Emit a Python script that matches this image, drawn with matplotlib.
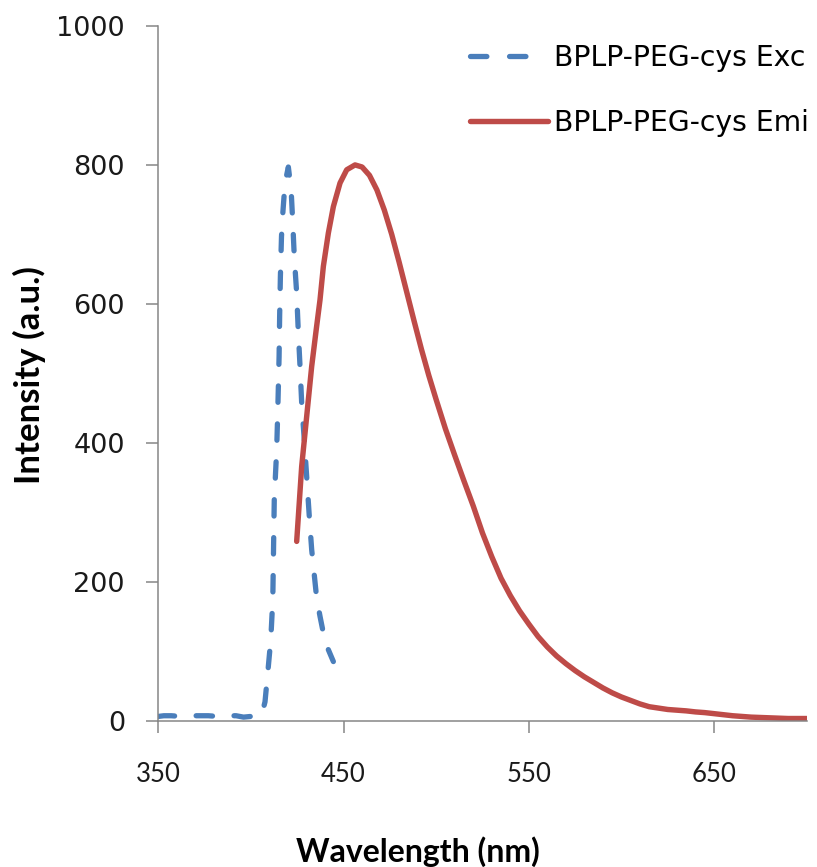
import matplotlib
matplotlib.use("Agg")
import matplotlib.pyplot as plt
import numpy as np

# Excitation spectrum (wavelength in nm, intensity in a.u.)
exc_wl = [350, 353, 357, 362, 367, 372, 377, 382, 387, 392, 396, 400, 403, 405.8,
          407.6, 409.4, 410.7, 411.8, 412.6, 413.9, 414.5, 415.2, 415.5, 415.9,
          416.5, 417.2, 418.4, 420.2, 421.7, 422.6, 423.4, 424.7, 425.6, 426.5,
          427.4, 428.8, 430.1, 431.5, 432.8, 435.5, 437.3, 439.1, 440.6, 441.8, 444.5]
exc_int = [6, 7, 7, 6, 7, 7, 7, 6, 7, 7, 5, 6, 7, 8,
           27, 78, 116, 174, 318, 390, 447, 524, 582, 639,
           697, 730, 774, 797, 764, 716, 668, 615, 558, 510,
           457, 404, 351, 294, 246, 176, 150, 126, 111, 102, 85]

# Emission spectrum
emi_wl = [424.7, 427.4, 430.1, 432.8, 435.2, 437.3, 439.1, 441.8, 444.5, 448.1,
          451.7, 456.2, 460, 464, 468, 472, 476, 480, 484, 488,
          492, 496, 500, 505, 510, 515, 520, 525, 530, 535,
          540, 545, 550, 555, 560, 565, 570, 575, 580, 585,
          590, 595, 600, 605, 610, 615, 620, 625, 630, 635,
          640, 645, 650, 655, 660, 665, 670, 680, 690, 700]
emi_int = [258, 366, 438, 510, 562, 606, 654, 702, 740, 774,
           793, 800, 797, 785, 764, 735, 700, 660, 618, 576,
           535, 497, 462, 420, 382, 345, 309, 270, 236, 205,
           180, 158, 139, 121, 106, 93, 82, 72, 63, 55,
           47, 40, 34, 29, 24, 20, 18, 16, 15, 14,
           12.5, 11.5, 10, 8.5, 7, 6, 5, 4, 3, 3]

series_labels = ["BPLP-PEG-cys Exc", "BPLP-PEG-cys Emi"]
x_ticks = [350, 450, 550, 650]
y_ticks = [0, 200, 400, 600, 800, 1000]

W, H = 817, 867
fig = plt.figure(figsize=(W / 100, H / 100), dpi=100)
ax = fig.add_axes([158.3 / W, (H - 720.6) / H, (806.7 - 158.3) / W, (720.6 - 26) / H])

blue = "#4A7EBB"
red = "#BE4B48"
grey = "#868686"

ax.set_xlim(350, 700)
ax.set_ylim(0, 1000)

# dash pattern in line-width units; the gap is tuned so the line starts
# on a dash and a dash is centred on the excitation maximum
exc_lw = 3.8
dash_on, dash_off0 = 3.1, 4.3
pts = ax.transData.transform(np.column_stack([exc_wl, exc_int])) * 72 / fig.dpi
seg = np.hypot(*np.diff(pts, axis=0).T)
arc = np.concatenate([[0], np.cumsum(seg)]) / exc_lw
peak_arc = arc[int(np.argmax(exc_int))] - dash_on / 2
n_periods = max(1, round(peak_arc / (dash_on + dash_off0)))
dash_off = peak_arc / n_periods - dash_on

ax.plot(exc_wl, exc_int, color=blue, lw=exc_lw, ls=(0, (dash_on, dash_off)),
        dash_capstyle="round", dash_joinstyle="round", label=series_labels[0])
ax.plot(emi_wl, emi_int, color=red, lw=3.9, solid_capstyle="round",
        solid_joinstyle="round", label=series_labels[1])

ax.set_xticks(x_ticks)
ax.set_yticks(y_ticks)

for side in ("top", "right"):
    ax.spines[side].set_visible(False)
for side in ("left", "bottom"):
    ax.spines[side].set_color(grey)
    ax.spines[side].set_linewidth(1.1)

ax.tick_params(axis="both", direction="out", length=8.5, width=1.1, color=grey)
ax.tick_params(axis="y", pad=15.5)
ax.tick_params(axis="x", pad=21)
for lab in ax.get_yticklabels():
    lab.set_fontfamily("DejaVu Sans")
    lab.set_fontsize(19.5)
    lab.set_color("#1a1a1a")
for lab in ax.get_xticklabels():
    lab.set_fontfamily("Lato")
    lab.set_fontsize(18.5)
    lab.set_color("#1a1a1a")

fig.text(418 / W, (H - 862) / H, "Wavelength (nm)", ha="center", va="baseline",
         fontfamily="Lato", fontweight="bold", fontsize=23, color="black")
fig.text(13 / W, (H - 375) / H, "Intensity (a.u.)", ha="left", va="center",
         rotation=90, fontfamily="Lato", fontweight="bold", fontsize=25, color="black")

fs = 20.3
fs_px = fs * 100 / 72
leg = ax.legend(loc="upper left", bbox_to_anchor=(470 / W, (H - 43.8) / H),
                bbox_transform=fig.transFigure, frameon=False, borderpad=0,
                borderaxespad=0, handlelength=78 / fs_px, handletextpad=0.2,
                labelspacing=1.31, prop={"family": "DejaVu Sans", "size": fs})
leg.get_lines()[0].set_linestyle((0, (dash_on, 4.3)))

fig.savefig("out.png", dpi=100)
